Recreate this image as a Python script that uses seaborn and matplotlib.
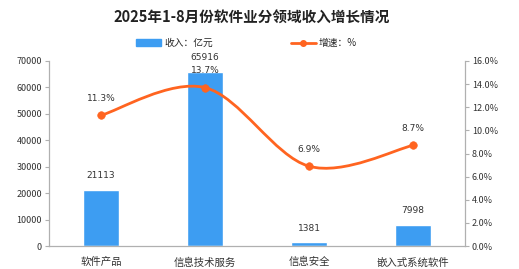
import numpy as np
import pandas as pd
import matplotlib
matplotlib.use("Agg")
import matplotlib.pyplot as plt
from matplotlib.path import Path
from matplotlib.patches import PathPatch
from matplotlib.lines import Line2D
from matplotlib.patches import Patch
import seaborn as sns

categories = ["软件产品", "信息技术服务", "信息安全", "嵌入式系统软件"]
revenue = [21113, 65916, 1381, 7998]
growth = [11.3, 13.7, 6.9, 8.7]
left_ticks = [0, 10000, 20000, 30000, 40000, 50000, 60000, 70000]
right_ticks = [0, 2, 4, 6, 8, 10, 12, 14, 16]
title = "2025年1-8月份软件业分领域收入增长情况"
legend_bar = "收入：亿元"
legend_line = "增速：%"

BLUE = "#3d9df2"
ORANGE = "#ff6420"
GRAY = "#b0b0b0"
TXT = "#333333"

sns.set_style("white")
plt.rcParams['font.family'] = ['Noto Sans CJK SC', 'DejaVu Sans']

df = pd.DataFrame({"cat": categories, "rev": revenue, "g": growth})

fig = plt.figure(figsize=(5.19, 2.69), dpi=100)
ax = fig.add_axes([49/519, 1-246/269, (465-49)/519, (246-61)/269])
sns.barplot(data=df, x="cat", y="rev", color=BLUE, width=0.35, ax=ax, saturation=1)
ax.set_xlim(-0.5, 3.5)
ax.set_ylim(0, 70000)
ax.set_yticks(left_ticks)
ax.set_yticklabels([str(v) for v in left_ticks], fontsize=6.5, color=TXT)
ax.set_xlabel("")
ax.set_ylabel("")
ax.set_xticks([-0.5, 0.5, 1.5, 2.5, 3.5])
ax.set_xticklabels([])
ax.set_xticks(range(4), minor=True)
ax.set_xticklabels(categories, minor=True, fontsize=7.5, color=TXT)
ax.tick_params(axis="x", which="minor", length=0, pad=8)
ax.tick_params(axis="x", which="major", length=3, color=GRAY, width=0.8)
ax.tick_params(axis="y", length=3, color=GRAY, width=0.8, pad=2, left=True)
for s in ["top", "right"]:
    ax.spines[s].set_visible(False)
for s in ["left", "bottom"]:
    ax.spines[s].set_color(GRAY)
    ax.spines[s].set_linewidth(0.9)

for i, v in enumerate(revenue):
    ax.annotate(str(v), (i, v), xytext=(0, 7), textcoords="offset points",
                ha="center", va="bottom", fontsize=6.5, color=TXT, family="DejaVu Sans")

ax2 = ax.twinx()
ax2.set_ylim(0, 16)
ax2.set_yticks(right_ticks)
ax2.set_yticklabels([f"{v:.1f}%" for v in right_ticks], fontsize=6.5, color=TXT)
ax2.tick_params(axis="y", length=3, color=GRAY, width=0.8, pad=2, right=True)
for s in ["top", "left", "bottom"]:
    ax2.spines[s].set_visible(False)
ax2.spines["right"].set_color(GRAY)
ax2.spines["right"].set_linewidth(0.9)

# smooth curve (Catmull-Rom rendered as Bezier) through the data points
xs = np.arange(len(growth), dtype=float)
ys = np.array(growth, dtype=float)
P = np.column_stack([xs, ys])
Pext = np.vstack([P[0], P, P[-1]])
verts = [tuple(P[0])]
codes = [Path.MOVETO]
for i in range(1, len(Pext) - 2):
    p0, p1, p2, p3 = Pext[i-1], Pext[i], Pext[i+1], Pext[i+2]
    c1 = p1 + (p2 - p0) / 6
    c2 = p2 - (p3 - p1) / 6
    verts += [tuple(c1), tuple(c2), tuple(p2)]
    codes += [Path.CURVE4] * 3
ax2.add_patch(PathPatch(Path(verts, codes), fill=False, edgecolor=ORANGE, lw=2))
sns.scatterplot(x=xs, y=ys, color=ORANGE, s=30, edgecolor=ORANGE, ax=ax2, zorder=5, legend=False)
ax2.set_xlim(-0.5, 3.5)
for i, v in enumerate(growth):
    ax2.annotate(f"{v}%", (i, v), xytext=(0, 9), textcoords="offset points",
                 ha="center", va="bottom", fontsize=6.5, color=TXT, family="DejaVu Sans")

fig.text(0.484, 1-17/269, title, ha="center", va="center", fontsize=10.5,
         fontweight="bold", color="#222222")
handles = [Patch(facecolor=BLUE, edgecolor=BLUE),
           Line2D([0], [0], color=ORANGE, lw=2, marker="o", markersize=4)]
fig.legend(handles, [legend_bar, legend_line], loc="center",
           bbox_to_anchor=(0.475, 1-43/269), ncol=2, frameon=False, fontsize=7,
           handlelength=2.6, handleheight=0.7, columnspacing=8, handletextpad=0.3)

fig.savefig("out.png", dpi=100)
